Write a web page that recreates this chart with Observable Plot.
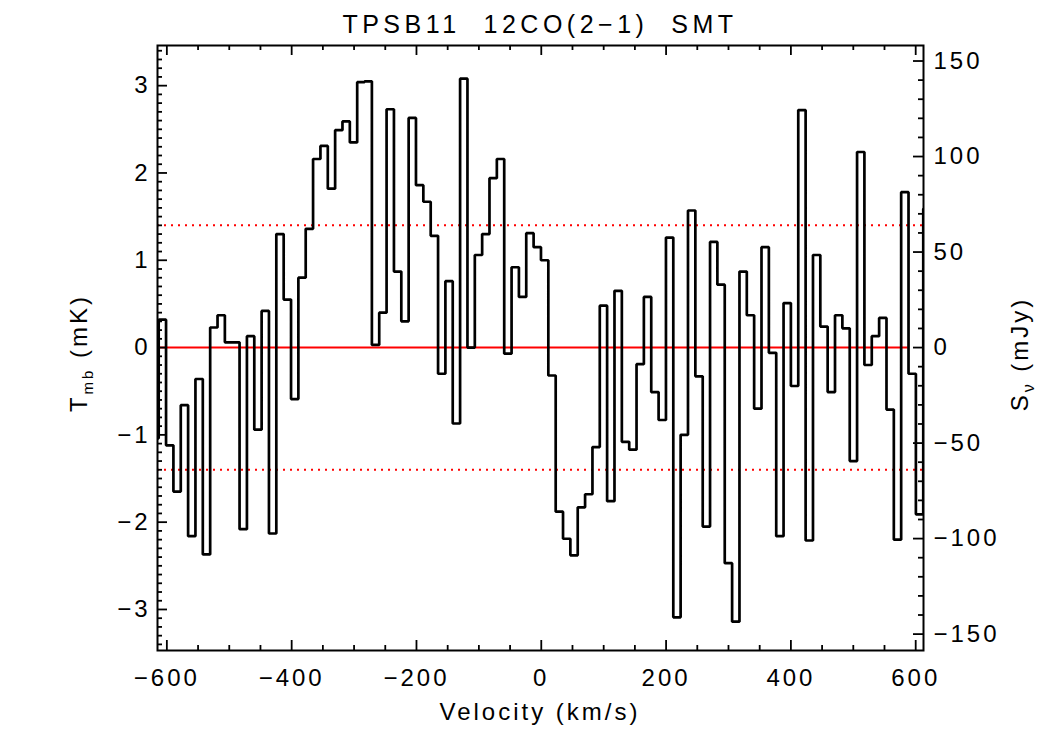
<!DOCTYPE html>
<html><head><meta charset="utf-8">
<script src="https://cdn.jsdelivr.net/npm/d3@7"></script>
<script src="https://cdn.jsdelivr.net/npm/@observablehq/plot@0.6"></script>
<style>
body{margin:0;background:#fff;font-family:"Liberation Sans",Arial,sans-serif;}
#title{width:766px;margin-left:157px;height:40px;box-sizing:border-box;padding-top:12px;font-size:25px;line-height:1;letter-spacing:4.5px;text-align:center;color:#000;white-space:pre;}
#chart svg{display:block;}
</style></head><body>
<div id="title">TPSB11  12CO(2−1)  SMT</div>
<div id="chart"></div>
<script>
// channel centre velocities (km/s)
const velocity = [-619.0,-607.2,-595.4,-583.6,-571.8,-560.1,-548.3,-536.5,-524.7,-512.9,
  -501.2,-489.4,-477.6,-465.8,-454.0,-442.3,-430.5,-418.7,-406.9,-395.1,
  -383.4,-371.6,-359.8,-348.0,-336.2,-324.5,-312.7,-300.9,-289.1,-277.3,
  -265.6,-253.8,-242.0,-230.2,-218.4,-206.7,-194.9,-183.1,-171.3,-159.5,
  -147.8,-136.0,-124.2,-112.4,-100.6,-88.9,-77.1,-65.3,-53.5,-41.7,
  -30.0,-18.2,-6.4,5.4,17.2,29.0,40.7,52.5,64.3,76.1,
  87.9,99.6,111.4,123.2,135.0,146.8,158.5,170.3,182.1,193.9,
  205.7,217.4,229.2,241.0,252.8,264.6,276.3,288.1,299.9,311.7,
  323.5,335.2,347.0,358.8,370.6,382.4,394.1,405.9,417.7,429.5,
  441.3,453.0,464.8,476.6,488.4,500.2,511.9,523.7,535.5,547.3,
  559.1,570.8,582.6,594.4,606.2,618.0];
// main-beam temperature (mK)
const tmb = [-1.04,0.32,-1.12,-1.65,-0.66,-2.16,-0.36,-2.37,0.23,0.37,
  0.06,0.06,-2.08,0.13,-0.94,0.42,-2.13,1.30,0.55,-0.59,
  0.80,1.36,2.16,2.31,1.82,2.49,2.59,2.35,3.04,3.05,
  0.03,0.40,2.73,0.87,0.30,2.63,1.86,1.67,1.28,-0.30,
  0.76,-0.87,3.08,0.00,1.06,1.30,1.94,2.16,-0.07,0.92,
  0.58,1.31,1.15,1.00,-0.32,-1.88,-2.19,-2.38,-1.83,-1.68,
  -1.14,0.48,-1.76,0.65,-1.08,-1.17,-0.19,0.58,-0.51,-0.83,
  1.26,-3.09,-1.00,1.57,-0.33,-2.05,1.21,0.72,-2.47,-3.14,
  0.87,0.37,-0.70,1.15,-0.06,-2.16,0.51,-0.44,2.72,-2.21,
  1.06,0.24,-0.51,0.37,0.22,-1.30,2.24,-0.20,0.13,0.34,
  -0.71,-2.20,1.78,-0.30,-1.91,1.59];

const xDomain = [-615, 612.5];
const yDomain = [-3.47, 3.46];
const xTicksMajor = [-600,-400,-200,0,200,400,600];
const xTicksMinor = [-550,-500,-450,-350,-300,-250,-150,-100,-50,50,100,150,250,300,350,450,500,550];
const yTicksMajor = [-3,-2,-1,0,1,2,3];
const yTicksMinor = d3.range(-34, 35).filter(d => d % 10 !== 0).map(d => d / 10);
const fluxTicksMajor = [-150,-100,-50,0,50,100,150];
const fluxTicksMinor = d3.range(-150, 151, 10).filter(d => d % 50 !== 0);
const mJyPerMK = 45.7;
const rmsLevels = [-1.4, 1.4];
const baselineLevel = [0];
const baselineRange = [-615, 588];

// layout
const W = 1050, H = 710, mT = 5, mB = 100, mL = 157, mR = 127;
const frameW = W - mL - mR, frameH = H - mT - mB;
const majorLen = 10, minorLen = 5;

const fmt = d => d < 0 ? "\u2212" + Math.abs(d) : String(d);
const data = velocity.map((v, i) => ({v, t: tmb[i]}));
const toMK = arr => arr.map(d => d / mJyPerMK);
const tickStyle = {stroke: "#000", strokeWidth: 1.8};

const plot = Plot.plot({
  width: W, height: H,
  marginTop: mT, marginBottom: mB, marginLeft: mL, marginRight: mR,
  style: {fontFamily: "'Liberation Sans', Arial, sans-serif", fontSize: "24px", color: "#000", background: "#fff", overflow: "visible"},
  x: {domain: xDomain},
  y: {domain: yDomain},
  marks: [
    Plot.ruleY(rmsLevels, {stroke: "#ff0000", strokeWidth: 2, strokeDasharray: "2,5"}),
    Plot.ruleY(baselineLevel, {x1: baselineRange[0], x2: baselineRange[1], stroke: "#ff0000", strokeWidth: 2}),
    Plot.line(data, {x: "v", y: "t", curve: "step", stroke: "#000", strokeWidth: 2.7, strokeLinejoin: "miter", strokeLinecap: "butt", clip: true}),
    // bottom & top inward ticks
    Plot.tickX(xTicksMinor, {x: d => d, insetTop: frameH - minorLen, ...tickStyle}),
    Plot.tickX(xTicksMajor, {x: d => d, insetTop: frameH - majorLen, ...tickStyle}),
    Plot.tickX(xTicksMinor, {x: d => d, insetBottom: frameH - minorLen, ...tickStyle}),
    Plot.tickX(xTicksMajor, {x: d => d, insetBottom: frameH - majorLen, ...tickStyle}),
    // left inward ticks
    Plot.tickY(yTicksMinor, {y: d => d, insetRight: frameW - minorLen, ...tickStyle}),
    Plot.tickY(yTicksMajor, {y: d => d, insetRight: frameW - majorLen, ...tickStyle}),
    // right inward ticks (flux density)
    Plot.tickY(toMK(fluxTicksMinor), {y: d => d, insetLeft: frameW - minorLen, ...tickStyle}),
    Plot.tickY(toMK(fluxTicksMajor), {y: d => d, insetLeft: frameW - majorLen, ...tickStyle}),
    // tick labels
    Plot.axisX(xTicksMajor, {anchor: "bottom", tickSize: 0, tickPadding: 18, tickFormat: fmt, label: null}),
    Plot.axisY(yTicksMajor, {anchor: "left", tickSize: 0, tickPadding: 7, tickFormat: fmt, label: null}),
    Plot.axisY(toMK(fluxTicksMajor), {anchor: "right", tickSize: 0, tickPadding: 10, tickFormat: d => fmt(Math.round(d * mJyPerMK)), label: null}),
    Plot.frame({stroke: "#000", strokeWidth: 2})
  ]
});

const svg = d3.select(plot);
svg.selectAll("text").style("letter-spacing", "3px");

// axis titles
svg.append("text")
  .attr("x", 540).attr("y", 680)
  .attr("text-anchor", "middle")
  .style("letter-spacing", "3px")
  .text("Velocity (km/s)");

const yl = svg.append("text")
  .attr("transform", "translate(87,313) rotate(-90)")
  .attr("text-anchor", "middle")
  .style("letter-spacing", "3px");
yl.append("tspan").text("T");
yl.append("tspan").attr("font-size", "15px").attr("dy", 6).text("mb");
yl.append("tspan").attr("dy", -6).text(" (mK)");

const yr = svg.append("text")
  .attr("transform", "translate(1028,314) rotate(-90)")
  .attr("text-anchor", "middle")
  .style("letter-spacing", "3px");
yr.append("tspan").text("S");
yr.append("tspan").attr("font-size", "16px").attr("dy", 6).text("\u03bd");
yr.append("tspan").attr("dy", -6).text(" (mJy)");

document.getElementById("chart").appendChild(plot);
</script>
</body></html>
